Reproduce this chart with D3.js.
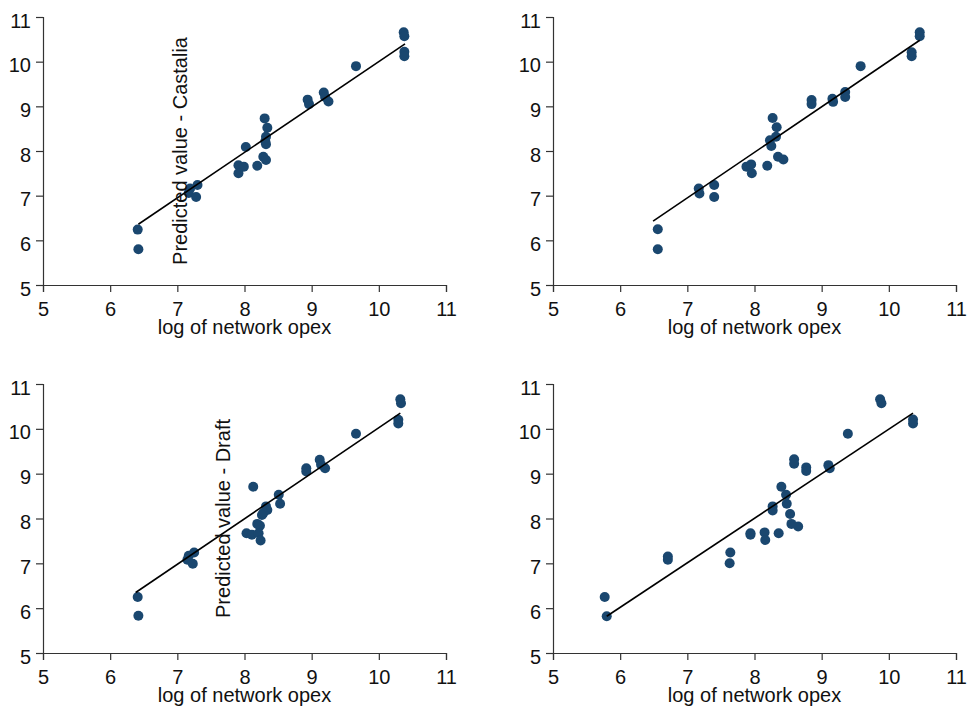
<!DOCTYPE html>
<html>
<head>
<meta charset="utf-8">
<script src="https://cdn.jsdelivr.net/npm/d3@7"></script>
<style>
  body { margin: 0; background: #fff; }
  svg { font-family: "Liberation Sans", Arial, sans-serif; }
</style>
</head>
<body>
<div id="chart-area"></div>
<script>
// Axis ticks (same on every panel)
const tickValues = [5, 6, 7, 8, 9, 10, 11]

// Panel 1 - Castalia
const castaliaX = [10.37, 10.38, 10.38, 10.38, 9.66, 9.18, 9.20, 9.25, 8.94, 8.96, 8.30, 8.34, 8.32, 8.31, 8.32, 8.02, 8.28, 8.32, 7.91, 7.99, 7.91, 8.19, 7.19, 7.30, 7.17, 7.28, 6.41, 6.42]
const castaliaY = [10.66, 10.57, 10.22, 10.12, 9.90, 9.31, 9.21, 9.11, 9.15, 9.05, 8.73, 8.52, 8.32, 8.22, 8.15, 8.09, 7.87, 7.80, 7.68, 7.65, 7.50, 7.67, 7.16, 7.24, 7.06, 6.97, 6.24, 5.80]
const castaliaFitX = [6.42, 10.39]
const castaliaFitY = [6.36, 10.40]

// Panel 2
const panel2X = [10.46, 10.46, 10.34, 10.34, 9.58, 9.35, 9.35, 9.16, 9.17, 8.85, 8.85, 8.27, 8.33, 8.32, 8.23, 8.25, 8.35, 8.43, 8.19, 7.88, 7.95, 7.96, 7.17, 7.18, 7.40, 7.40, 6.56, 6.56]
const panel2Y = [10.66, 10.57, 10.21, 10.12, 9.90, 9.32, 9.21, 9.17, 9.10, 9.14, 9.05, 8.74, 8.53, 8.32, 8.24, 8.11, 7.87, 7.81, 7.67, 7.65, 7.70, 7.50, 7.16, 7.05, 7.24, 6.97, 6.25, 5.80]
const panel2FitX = [6.49, 10.46]
const panel2FitY = [6.43, 10.48]

// Panel 3 - Draft
const draftX = [10.32, 10.33, 10.29, 10.29, 9.66, 9.12, 9.14, 9.20, 8.92, 8.92, 8.13, 8.51, 8.53, 8.32, 8.34, 8.28, 8.26, 8.19, 8.23, 8.03, 8.11, 8.21, 8.24, 7.17, 7.25, 7.15, 7.23, 6.41, 6.42]
const draftY = [10.66, 10.57, 10.20, 10.12, 9.89, 9.31, 9.20, 9.12, 9.12, 9.05, 8.71, 8.53, 8.33, 8.27, 8.19, 8.12, 8.08, 7.88, 7.84, 7.67, 7.64, 7.67, 7.51, 7.17, 7.24, 7.08, 6.99, 6.25, 5.83]
const draftFitX = [6.38, 10.32]
const draftFitY = [6.35, 10.35]

// Panel 4
const panel4X = [9.87, 9.89, 10.36, 10.36, 9.39, 8.59, 8.59, 8.77, 8.77, 9.10, 9.12, 8.40, 8.47, 8.48, 8.27, 8.27, 8.53, 8.55, 8.65, 7.94, 7.94, 8.15, 8.16, 8.36, 6.71, 6.71, 7.64, 7.63, 5.77, 5.80]
const panel4Y = [10.66, 10.57, 10.21, 10.12, 9.89, 9.32, 9.22, 9.14, 9.06, 9.19, 9.12, 8.71, 8.53, 8.33, 8.27, 8.18, 8.10, 7.88, 7.82, 7.67, 7.64, 7.69, 7.52, 7.67, 7.15, 7.08, 7.24, 7.00, 6.25, 5.82]
const panel4FitX = [5.80, 10.36]
const panel4FitY = [5.82, 10.35]

const xTitle = "log of network opex"

const width = 969, height = 709
const dotColor = "#1a476f"
const fontSize = "20px"

const svg = d3.select("#chart-area").append("svg")
    .attr("width", width)
    .attr("height", height)

// left/right/top/bottom of each plot region, plus where its y title sits
const panels = [
    {xs: castaliaX, ys: castaliaY, fx: castaliaFitX, fy: castaliaFitY,
     left: 43, right: 446, top: 17, bottom: 285, yTitle: "Predicted value - Castalia", yTitleX: 187},
    {xs: panel2X, ys: panel2Y, fx: panel2FitX, fy: panel2FitY,
     left: 553, right: 956, top: 17, bottom: 285, yTitle: null},
    {xs: draftX, ys: draftY, fx: draftFitX, fy: draftFitY,
     left: 43, right: 446, top: 384, bottom: 653, yTitle: "Predicted value - Draft", yTitleX: 230},
    {xs: panel4X, ys: panel4Y, fx: panel4FitX, fy: panel4FitY,
     left: 553, right: 956, top: 384, bottom: 653, yTitle: null}
]

const fmt = d3.format("d")

panels.forEach(p => {
    const x = d3.scaleLinear().domain([5, 11]).range([p.left, p.right])
    const y = d3.scaleLinear().domain([5, 11]).range([p.bottom, p.top])

    const g = svg.append("g")

    // x axis
    const xAxis = g.append("g")
        .attr("transform", `translate(0, ${p.bottom})`)
        .call(d3.axisBottom(x).tickValues(tickValues).tickFormat(fmt)
            .tickSizeOuter(0).tickSize(7).tickPadding(10))
    // y axis
    const yAxis = g.append("g")
        .attr("transform", `translate(${p.left}, 0)`)
        .call(d3.axisLeft(y).tickValues(tickValues).tickFormat(fmt)
            .tickSizeOuter(0).tickSize(7).tickPadding(5))

    ;[xAxis, yAxis].forEach(a => {
        a.attr("font-family", null).attr("font-size", null)
        a.selectAll("path, line").attr("stroke", "#333").attr("stroke-width", 1.2)
        a.selectAll("text").attr("fill", "#111").style("font-size", fontSize)
    })
    yAxis.selectAll("text").attr("dy", "0.5em")

    // x title
    g.append("text")
        .attr("x", (p.left + p.right) / 2)
        .attr("y", p.bottom + 48.5)
        .attr("text-anchor", "middle")
        .attr("fill", "#111")
        .style("font-size", fontSize)
        .text(xTitle)

    // points
    const pts = p.xs.map((d, i) => ({x: d, y: p.ys[i]}))
    g.selectAll("circle")
        .data(pts)
        .enter().append("circle")
        .attr("cx", d => x(d.x))
        .attr("cy", d => y(d.y))
        .attr("r", 5)
        .attr("fill", dotColor)

    // fitted line
    const line = d3.line()
        .x(d => x(d.x))
        .y(d => y(d.y))
    g.append("path")
        .attr("fill", "none")
        .attr("stroke", "#000")
        .attr("stroke-width", 1.6)
        .attr("d", line(p.fx.map((d, i) => ({x: d, y: p.fy[i]}))))

    // y title, sitting inside the plot as in the original
    if (p.yTitle) {
        g.append("text")
            .attr("transform", `translate(${p.yTitleX}, ${(p.top + p.bottom) / 2}) rotate(-90)`)
            .attr("text-anchor", "middle")
            .attr("fill", "#111")
            .style("font-size", fontSize)
            .text(p.yTitle)
    }
})
</script>
</body>
</html>
